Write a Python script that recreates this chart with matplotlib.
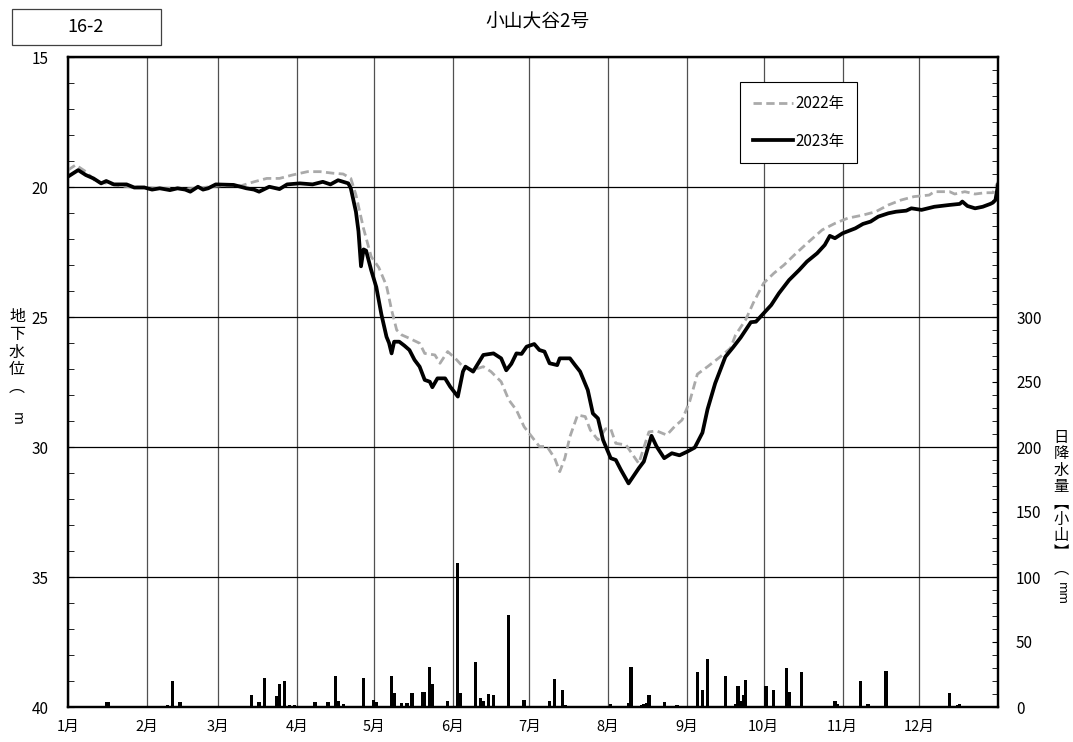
import numpy as np
import matplotlib.pyplot as plt
from matplotlib.patches import Rectangle

plt.rcParams['font.family'] = ['Noto Sans CJK JP', 'DejaVu Sans']

# groundwater level (m), day of year -> value
days_2023 = [0, 4, 7, 10, 13, 15, 18, 23, 26, 30, 33, 36, 40, 43, 46, 48, 51, 53, 55, 58,
             65, 70, 73, 75, 79, 83, 86, 91, 96, 100, 103, 106, 110, 111, 113, 114, 115, 116,
             117, 119, 121, 123, 125, 126, 127, 128, 130, 132, 134, 136, 138, 140, 142, 143,
             145, 148, 150, 153, 155, 156, 159, 163, 167, 170, 172, 174, 176, 178, 180, 183,
             185, 187, 189, 192, 193, 197, 199, 201, 204, 206, 208, 210, 213, 215, 217, 220,
             224, 226, 229, 231, 234, 237, 240, 243, 246, 249, 251, 254, 257, 258, 261, 264,
             268, 270, 273, 276, 279, 283, 287, 290, 294, 297, 299, 301, 304, 309, 312, 315,
             318, 322, 325, 329, 331, 335, 340, 346, 350, 351, 353, 356, 359, 362, 363, 364, 365]
level_2023 = [19.60, 19.35, 19.54, 19.67, 19.86, 19.77, 19.90, 19.90, 20.02, 20.02, 20.10, 20.05,
              20.12, 20.05, 20.10, 20.18, 19.99, 20.10, 20.05, 19.90,
              19.92, 20.05, 20.10, 20.18, 19.99, 20.08, 19.90, 19.86, 19.90, 19.80, 19.90, 19.74,
              19.86, 20.05, 20.95, 21.70, 23.05, 22.40,
              22.45, 23.20, 23.85, 24.90, 25.76, 26.00, 26.40, 25.95, 25.95, 26.10, 26.27, 26.65,
              26.91, 27.42, 27.49, 27.70,
              27.36, 27.36, 27.68, 28.06, 27.10, 26.91, 27.10, 26.46, 26.40, 26.59, 27.05, 26.80,
              26.40, 26.42, 26.14, 26.04,
              26.27, 26.33, 26.78, 26.85, 26.59, 26.59, 26.85, 27.10, 27.81, 28.71, 28.90, 29.73,
              30.43, 30.50, 30.88, 31.40,
              30.82, 30.56, 29.57, 29.98, 30.43, 30.24, 30.32, 30.18, 30.02, 29.45, 28.55, 27.55,
              26.78, 26.53, 26.17, 25.79,
              25.20, 25.18, 24.86, 24.54, 24.09, 23.58, 23.19, 22.87, 22.55, 22.23, 21.88, 21.97,
              21.78, 21.59, 21.42, 21.33,
              21.14, 21.01, 20.95, 20.91, 20.82, 20.88, 20.76, 20.69, 20.65, 20.56, 20.73, 20.82,
              20.76, 20.65, 20.60, 20.50, 19.92]

days_2022 = [0, 3, 7, 11, 15, 20, 25, 30, 35, 40, 45, 50, 55, 60, 65, 68, 73, 78, 83, 88, 94,
             99, 104, 108, 111, 113, 116, 119, 122, 125, 127, 129, 131, 134, 138, 140, 144, 146,
             149, 152, 155, 159, 163, 166, 170, 173, 176, 179, 182, 185, 188, 191, 193, 195, 197,
             200, 203, 205, 208, 211, 213, 215, 219, 222, 224, 228, 231, 235, 238, 241, 244, 247,
             251, 256, 260, 262, 266, 269, 273, 277, 281, 285, 290, 296, 301, 306, 312, 317, 322,
             327, 332, 338, 340, 346, 348, 352, 356, 360, 363, 365]
level_2022 = [19.35, 19.15, 19.41, 19.80, 19.85, 19.95, 20.00, 20.00, 20.05, 20.05, 20.08, 20.05,
              20.00, 19.95, 19.95, 19.95, 19.80, 19.67, 19.67, 19.54, 19.41,
              19.41, 19.47, 19.50, 19.67, 20.30, 21.60, 22.68, 23.10, 23.80, 24.73, 25.50, 25.69,
              25.82, 26.01, 26.40, 26.46, 26.78,
              26.33, 26.59, 26.91, 27.04, 26.91, 27.10, 27.49, 28.19, 28.58, 29.22, 29.60, 29.98,
              29.98, 30.43, 30.95, 30.43, 29.60,
              28.77, 28.83, 29.35, 29.73, 29.30, 29.30, 29.86, 29.92, 30.35, 30.63, 29.42, 29.38,
              29.54, 29.22, 28.96, 28.25, 27.20,
              26.91, 26.53, 26.20, 25.69, 25.10, 24.45, 23.70, 23.32, 23.00, 22.62, 22.17, 21.65,
              21.40, 21.20, 21.08, 20.95, 20.69,
              20.50, 20.37, 20.31, 20.18, 20.18, 20.27, 20.18, 20.27, 20.22, 20.22, 19.80]

# daily rainfall (mm)
rain_days = [15, 16, 39, 41, 44, 55, 72, 75, 77, 78, 82, 83, 85, 87, 89, 97, 98, 102, 105, 106,
             108, 116, 120, 121, 127, 128, 131, 133, 135, 139, 140, 142, 143, 149, 150, 153, 154,
             160, 162, 163, 165, 167, 173, 174, 179, 181, 184, 189, 191, 194, 195, 213, 220, 221,
             222, 225, 226, 227, 228, 234, 235, 239, 247, 249, 251, 252, 258, 262, 263, 264, 265,
             266, 274, 277, 282, 283, 288, 301, 302, 311, 314, 321, 340, 346, 349, 350, 364]
rain_mm = [4, 4, 1.5, 20, 4, 1, 9, 4, 22.5, 1, 8.5, 17.4, 20, 1.5, 1.5, 4, 1, 4, 24, 5,
           2.5, 22.5, 5.6, 4, 24, 11, 3.3, 3.3, 11, 11.5, 11.5, 31, 17.4, 5, 1, 110.8, 11,
           35, 7, 4.6, 9.7, 9, 70.5, 1, 5.6, 1, 1, 5, 21.8, 12.8, 1.5, 2.5, 3.3, 31,
           1, 1.5, 2, 3, 9.5, 4, 1, 1.8, 27, 12.8, 37, 1, 23.6, 2.5, 16, 4.6, 9.5,
           21, 16, 12.8, 30, 11.5, 27, 5, 2.5, 20, 2.5, 27.7, 1, 10.8, 1.3, 2.5, 1]

month_starts = [0, 31, 59, 90, 120, 151, 181, 212, 243, 273, 304, 334]
month_labels = ['1月', '2月', '3月', '4月', '5月', '6月', '7月', '8月', '9月', '10月', '11月', '12月']

fig = plt.figure(figsize=(10.73, 7.42), dpi=100)
ax = fig.add_axes([68 / 1073, 1 - 707 / 742, 930 / 1073, 650 / 742])
ax2 = ax.twinx()

ax.plot(days_2022, level_2022, color='#aaaaaa', lw=2.0, ls=(0, (3, 1.6)), label='2022年', zorder=3)
ax.plot(days_2023, level_2023, color='black', lw=2.7, label='2023年', zorder=4)
ax2.bar(rain_days, rain_mm, width=1.3, color='black')

ax.set_xlim(0, 365)
ax.set_ylim(40, 15)
ax2.set_ylim(0, 500)

ax.set_xticks(month_starts)
ax.set_xticklabels(month_labels, fontsize=10.5)
ax.tick_params(axis='x', length=0, pad=9)
ax.grid(axis='x', color='#505050', lw=0.9)
ax.grid(axis='y', color='black', lw=0.9)
ax.set_axisbelow(True)

ax.set_yticks(range(15, 41, 5))
ax.set_yticks(range(15, 41, 1), minor=True)
ax.tick_params(axis='y', which='both', direction='in', length=4, labelsize=11, pad=14)

ax2.set_yticks(range(0, 301, 50))
ax2.set_yticks(range(0, 501, 10), minor=True)
ax2.tick_params(axis='y', which='both', direction='in', length=4, labelsize=11, pad=13)

for a in (ax, ax2):
    for s in a.spines.values():
        s.set_linewidth(1.6)
        s.set_color('black')

leg = ax.legend(loc='upper left', bbox_to_anchor=(740 / 1073, 1 - 82 / 742),
                bbox_transform=fig.transFigure, fontsize=11, frameon=True, fancybox=False,
                edgecolor='black', framealpha=1, handlelength=2.6, handletextpad=0.15,
                labelspacing=1.35, borderpad=0.85, borderaxespad=0)
leg.get_frame().set_linewidth(0.8)

# title and id box
fig.text(538 / 1073, 1 - 22 / 742, '小山大谷2号', ha='center', va='center', fontsize=13.5)
fig.patches.append(Rectangle((11.5 / 1073, 1 - 45 / 742), 149.5 / 1073, 35.5 / 742,
                             transform=fig.transFigure, fill=False, edgecolor='#404040', lw=0.9))
fig.text(86 / 1073, 1 - 27 / 742, '16-2', ha='center', va='center', fontsize=13)

# vertical axis titles
fig.text(17 / 1073, 1 - 352 / 742, '地\n下\n水\n位\n︵', ha='center', va='center',
         fontsize=11.5, linespacing=1.05)
fig.text(17 / 1073, 1 - 418 / 742, 'm', ha='center', va='center', fontsize=10, rotation=-90)

fig.text(1061 / 1073, 1 - 503 / 742, '日\n降\n水\n量\n︻\n小\n山\n︼\n︵', ha='center', va='center',
         fontsize=11, linespacing=0.95)
fig.text(1061 / 1073, 1 - 594 / 742, 'mm', ha='center', va='center', fontsize=9, rotation=-90)

fig.savefig('out.png', dpi=100)
